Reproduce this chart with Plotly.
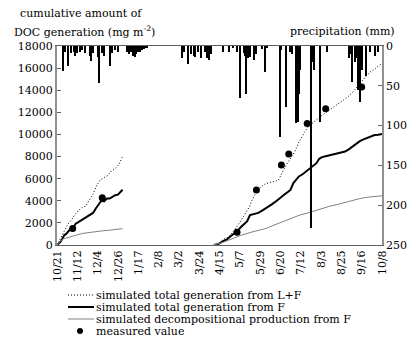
import plotly.graph_objects as go
from datetime import date, timedelta

BASE = date(2001, 10, 21)

def d(n):
    return (BASE + timedelta(days=n)).isoformat()

# ---------------- data (days since 10/21, values) ----------------
lf1_day = [0, 4, 8, 12, 16, 19, 23, 27, 31, 35, 39, 43, 47, 51, 55, 59, 63, 67, 71]
lf1_val = [0, 600, 1300, 1900, 2300, 2700, 3100, 3400, 3500, 4000, 4600, 5400, 5900, 6100, 6300, 6700, 6900, 7300, 8000]

lf2_day = [170, 176, 180, 185, 188, 192, 196, 200, 204, 208, 212, 216, 220, 225, 230, 236, 240, 244, 248, 252,
           256, 259, 262, 265, 268, 272, 276, 280, 285, 290, 295, 300, 305, 310, 315, 320, 324, 328, 332, 336,
           340, 344, 348, 352]
lf2_val = [0, 200, 500, 700, 900, 1300, 1800, 2300, 2900, 3400, 4200, 4800, 5200, 5500, 5650, 5750, 5900, 6600, 7200, 7700,
           8200, 8700, 9300, 9700, 10200, 10700, 11000, 11300, 11600, 11900, 12200, 12500, 12800, 13100, 13400, 13800, 14200, 14700, 15100, 15400,
           15700, 15900, 16200, 16400]

f1_day = [0, 4, 8, 10, 13, 17, 20, 24, 28, 32, 36, 39, 42, 45, 48, 51, 54, 57, 60, 63, 66, 69, 71]
f1_val = [0, 300, 900, 1000, 1300, 1500, 1900, 2100, 2300, 2500, 2700, 2900, 3300, 3700, 4000, 3950, 4200, 4200, 4350, 4500, 4550, 4800, 5000]

f2_day = [170, 175, 180, 184, 188, 192, 195, 199, 203, 206, 209, 214, 218, 223, 228, 233, 238, 242, 246, 250,
          253, 256, 259, 262, 266, 270, 274, 278, 281, 284, 287, 292, 297, 302, 307, 312, 316, 320, 324, 328,
          332, 336, 340, 344, 348, 352]
f2_val = [0, 100, 350, 500, 800, 1050, 1250, 1600, 1900, 2150, 2700, 2800, 2900, 3150, 3400, 3700, 4000, 4300, 4550, 4800,
          5000, 5600, 5900, 6200, 6400, 6650, 6900, 7150, 7400, 7800, 7950, 8050, 8150, 8250, 8350, 8450, 8650, 8900, 9150, 9400,
          9550, 9700, 9850, 9950, 9980, 10050]

dp1_day = [0, 3, 7, 14, 21, 28, 35, 42, 49, 56, 63, 71]
dp1_val = [0, 300, 550, 750, 900, 1050, 1150, 1220, 1280, 1330, 1390, 1480]

dp2_day = [170, 180, 191, 200, 210, 220, 227, 235, 245, 255, 263, 274, 285, 295, 303, 312, 320, 328, 336, 344, 352]
dp2_val = [0, 250, 600, 900, 1150, 1400, 1510, 1800, 2150, 2450, 2710, 2950, 3250, 3500, 3650, 3850, 4050, 4200, 4320, 4400, 4450]

meas_day = [17, 49, 195, 216, 243, 251, 271, 291, 330]
meas_val = [1500, 4280, 1150, 4975, 7240, 8230, 11000, 12330, 14290]

rain_day = [6, 9, 12, 15, 18, 19, 22, 25, 27, 30, 36, 37, 39, 44, 46, 49, 51, 57, 60, 63, 66,
            76, 78, 80, 82, 83, 85, 86, 88, 90, 92, 94, 96, 97,
            135, 138, 142, 145, 148, 150, 153, 156, 160, 163, 165, 167,
            180, 186, 191, 195, 198, 202, 204, 205, 207, 209, 213, 215, 222, 225, 227,
            241, 243, 248, 252, 254, 259, 260, 261, 262, 263, 275, 277, 278, 285, 292,
            316, 317, 319, 323, 325, 326, 328, 330, 335, 339, 344, 348]
rain_mm = [32, 7, 25, 9, 7, 12, 9, 7, 5, 9, 12, 19, 9, 14, 46, 9, 12, 25, 9, 5, 7,
           8, 10, 7, 12, 9, 14, 10, 8, 7, 5, 4, 3, 3,
           15, 8, 22, 10, 12, 14, 8, 15, 7, 15, 18, 10,
           7, 7, 3, 7, 65, 9, 12, 60, 15, 14, 17, 10, 4, 33, 3,
           114, 5, 76, 8, 10, 97, 85, 95, 60, 30, 229, 20, 30, 95, 8,
           15, 10, 45, 20, 15, 55, 70, 30, 38, 8, 12, 8]

tick_days = list(range(0, 353, 22))

# ---------------- figure ----------------
FONT = "DejaVu Serif"
FS = 11
W, H = 420, 341
L, R, T, B = 57, 38, 46, 96
PW, PH = W - L - R, H - T - B

def px(x):
    return (x - L) / PW

def py(y):
    return (H - B - y) / PH

fig = go.Figure()

fig.add_trace(go.Bar(x=[d(n) for n in rain_day], y=rain_mm, yaxis="y2",
                     marker=dict(color="black", line=dict(width=0)),
                     width=1.1 * 86400000, showlegend=False))

for days, vals in [(lf1_day, lf1_val), (lf2_day, lf2_val)]:
    fig.add_trace(go.Scatter(x=[d(n) for n in days], y=vals, mode="lines",
                             line=dict(color="black", width=1, dash="1px,2px"), showlegend=False))
for days, vals in [(f1_day, f1_val), (f2_day, f2_val)]:
    fig.add_trace(go.Scatter(x=[d(n) for n in days], y=vals, mode="lines",
                             line=dict(color="black", width=2), showlegend=False))
for days, vals in [(dp1_day, dp1_val), (dp2_day, dp2_val)]:
    fig.add_trace(go.Scatter(x=[d(n) for n in days], y=vals, mode="lines",
                             line=dict(color="#808080", width=1), showlegend=False))
fig.add_trace(go.Scatter(x=[d(n) for n in meas_day], y=meas_val, mode="markers",
                         marker=dict(color="black", size=7), showlegend=False))

axcol = "#909090"
fig.update_layout(
    width=W, height=H, margin=dict(l=L, r=R, t=T, b=B, pad=0),
    paper_bgcolor="white", plot_bgcolor="white",
    font=dict(family=FONT, size=FS, color="black"),
    bargap=0,
    xaxis=dict(range=[d(0), d(352)], tickvals=[d(n) for n in tick_days], tickformat="%-m/%-d",
               tickangle=-90, showgrid=False, zeroline=False, showline=True, linecolor="#606060",
               linewidth=1, mirror=True, ticks="", tickfont=dict(family=FONT, size=FS)),
    yaxis=dict(range=[0, 18000], dtick=2000, tickformat="d", showgrid=False, zeroline=False, showline=True,
               linecolor=axcol, linewidth=2, ticks="inside", ticklen=4, tickcolor="#606060",
               tickfont=dict(family=FONT, size=FS)),
    yaxis2=dict(range=[250, 0], dtick=50, overlaying="y", side="right", showgrid=False,
                zeroline=False, showline=True, linecolor=axcol, linewidth=1.5, ticks="inside",
                ticklen=4, tickcolor="#606060", tickfont=dict(family=FONT, size=FS)),
)

ann = [
    dict(text="cumulative amount of", x=px(18), y=py(14), xanchor="left", yanchor="middle"),
    dict(text="DOC generation (mg m<sup>-2</sup>)", x=px(12), y=py(32), xanchor="left", yanchor="middle"),
    dict(text="precipitation (mm)", x=px(397), y=py(32), xanchor="right", yanchor="middle"),
]
leg_text = ["simulated total generation from L+F", "simulated total generation from F",
            "simulated decompositional production from F", "measured value"]
leg_y = [295, 307, 319, 331]
for t, yy in zip(leg_text, leg_y):
    ann.append(dict(text=t, x=px(95), y=py(yy), xanchor="left", yanchor="middle", height=11, borderpad=0))
for a in ann:
    a.update(xref="paper", yref="paper", showarrow=False, font=dict(family=FONT, size=FS, color="black"))
fig.update_layout(annotations=ann)

shapes = [
    dict(type="line", x0=px(68), x1=px(94), y0=py(295), y1=py(295), line=dict(color="black", width=1, dash="1px,2px")),
    dict(type="line", x0=px(68), x1=px(94), y0=py(307), y1=py(307), line=dict(color="black", width=2)),
    dict(type="line", x0=px(68), x1=px(94), y0=py(319), y1=py(319), line=dict(color="#808080", width=1)),
    dict(type="circle", x0=px(77), x1=px(83), y0=py(328), y1=py(334), fillcolor="black", line=dict(color="black", width=0)),
]
for s in shapes:
    s.update(xref="paper", yref="paper")
fig.update_layout(shapes=shapes)

fig.write_html("out.html")
